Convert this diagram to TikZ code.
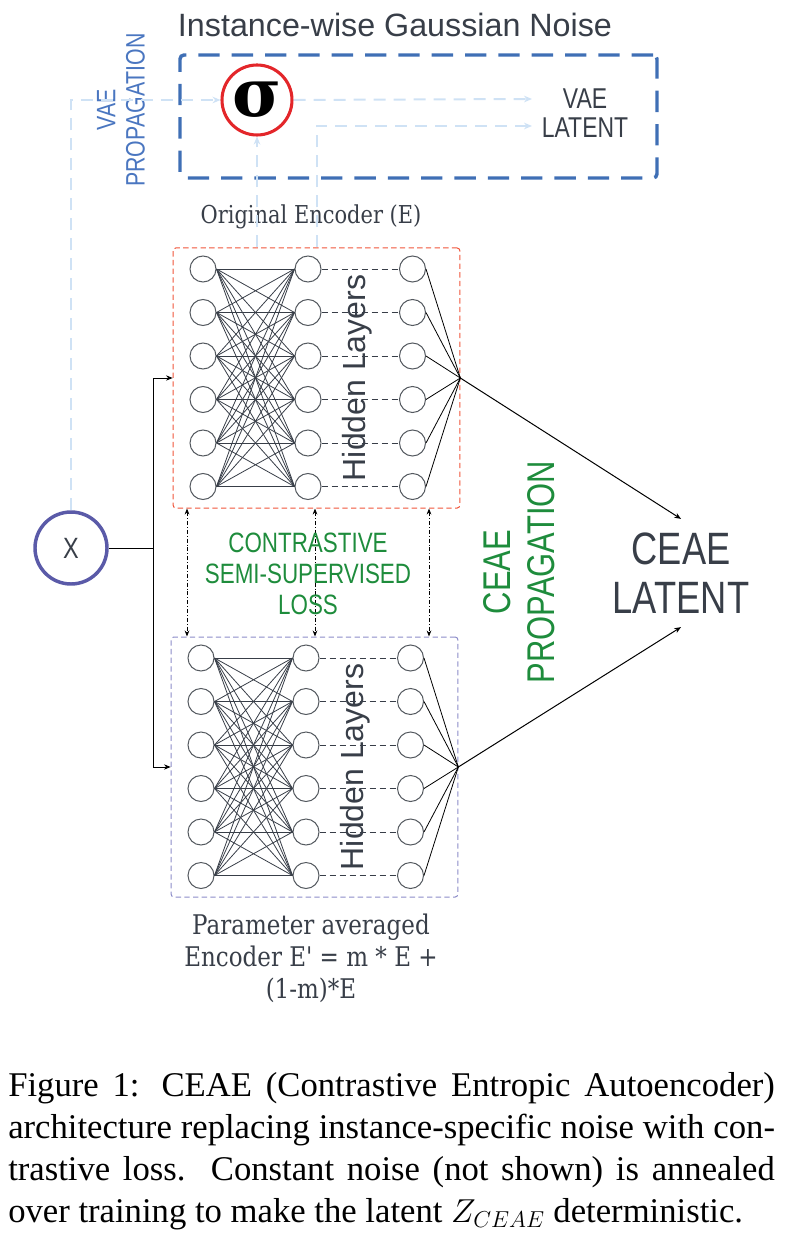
\documentclass[tikz,border=0pt]{standalone}
\usepackage{fontspec}
\usepackage{amsmath}
\setmainfont{Liberation Serif}
\setsansfont{Liberation Sans}
\newfontfamily\narrowfont[FakeStretch=0.8]{Liberation Sans}
\newfontfamily\labelfont[FakeStretch=0.85]{DejaVu Serif}
\newfontfamily\sigmafont{DejaVu Serif}
\usetikzlibrary{arrows.meta,positioning}

\definecolor{darktext}{HTML}{383E48}
\definecolor{noiseblue}{HTML}{3F6FB5}
\definecolor{vaetext}{HTML}{4A76C0}
\definecolor{vaelight}{HTML}{CFE2F5}
\definecolor{sigred}{HTML}{E3262A}
\definecolor{encred}{HTML}{F0553A}
\definecolor{emapurple}{HTML}{8C8CC8}
\definecolor{xpurple}{HTML}{5A5AA8}
\definecolor{ceaegreen}{HTML}{1E8C3C}
\definecolor{neurongray}{HTML}{555A60}

\tikzset{
  neuron/.style={circle, draw=neurongray, line width=0.75pt, minimum size=19.5pt, inner sep=0pt},
  encbox/.style={dash pattern=on 4pt off 2.5pt, line width=0.75pt, rounded corners=2pt,
    minimum width=215pt, minimum height=195pt, inner sep=0pt},
  weight/.style={draw=darktext, line width=0.6pt},
  skipline/.style={draw=darktext, line width=0.6pt, dash pattern=on 4.5pt off 3pt},
  vaeline/.style={draw=vaelight, line width=1.5pt, dash pattern=on 9pt off 6pt},
  vaearrow/.style={vaeline, -{Stealth[length=6pt,width=5pt]}},
  feed/.style={draw=black, line width=0.75pt, -{Stealth[length=5pt,width=4pt]}},
  tie/.style={draw=black, line width=0.6pt, dash pattern=on 3pt off 1.5pt on 0.6pt off 1.5pt,
    {Stealth[length=4.5pt,width=3.5pt]}-{Stealth[length=4.5pt,width=3.5pt]}},
  hidden/.style={font=\sffamily\fontsize{24}{24}\selectfont, text=darktext, inner sep=0pt},
  greenlabel/.style={text=ceaegreen, align=center, inner sep=0pt},
}

% one encoder: 6 inputs fully linked to 6 hidden units, then to the latent point
\newcommand{\netlayers}[1]{%
  \begin{scope}[shift={(#1.center)}]
    \foreach \r in {0,...,5} {
      \node[neuron] (#1-in\r)  at (-113.5,-109+43.5*\r) {};
      \node[neuron] (#1-hid\r) at (-8.5,-109+43.5*\r) {};
      \node[neuron] (#1-out\r) at (96,-109+43.5*\r) {};
    }
    \foreach \i in {0,...,5}
      \foreach \j in {0,...,5}
        \draw[weight] (#1-in\i.east) -- (#1-hid\j.west);
    \foreach \r in {0,...,5} {
      \draw[skipline] (#1-hid\r) -- (#1-out\r);
      \draw[line width=0.6pt] (#1-out\r.east) -- (#1.east);
    }
    \node[hidden, rotate=90] (#1-lbl) at (40.5,0) {Hidden Layers};
  \end{scope}}

\begin{document}
\begin{tikzpicture}[x=0.75pt,y=0.75pt,yscale=-1,xscale=1]
\useasboundingbox (0,0) rectangle (787,1237);

% noise block
\node[font=\sffamily\fontsize{24.2}{24}\selectfont, text=darktext, inner sep=0pt] (title) at (395,25) {Instance-wise Gaussian Noise};
\node[draw=noiseblue, line width=2.6pt, dash pattern=on 16pt off 9pt, rounded corners=3pt,
  minimum width=357.75pt, minimum height=92.25pt] (noise) at (418.5,116.5) {};
\node[circle, draw=sigred, line width=2.3pt, minimum size=52.5pt, inner sep=0pt] (sig) at (257,100)
  {\sigmafont\bfseries\fontsize{50}{50}\selectfont σ};
\node[font=\narrowfont\fontsize{21.5}{22}\selectfont, text=darktext, align=center] (vaelat) at (585,113) {VAE\\LATENT};
\coordinate (mu) at (532,99);
\coordinate (logvar) at (532,126);
\node[font=\narrowfont\fontsize{20}{22}\selectfont, text=vaetext, align=center, rotate=90] (vaeprop) at (121,110) {VAE\\PROPAGATION};

% encoders
\node[encbox, draw=encred] (enc) at (316.5,378) {};
\node[encbox, draw=emapurple] (ema) at (314.5,767) {};
\netlayers{enc}
\netlayers{ema}

\node[font=\labelfont\fontsize{18.5}{24}\selectfont, text=darktext, fill=white, inner sep=1pt] (enclbl) at (311,217) {Original Encoder (E)};
\node[font=\labelfont\fontsize{20.3}{24}\selectfont, text=darktext, align=center] (emalbl) at (311,958)
  {Parameter averaged\\Encoder E' = m * E +\\(1-m)*E};

% input
\node[circle, draw=xpurple, line width=2.6pt, minimum size=54pt, inner sep=0pt,
  font=\narrowfont\fontsize{22}{22}\selectfont, text=darktext] (xin) at (71,548) {X};
\draw[line width=0.75pt] (xin.east) -- ++(45,0) coordinate (split);
\draw[feed] (split) |- (enc.west);
\draw[feed] (split) |- (ema.west);

% vae path
\draw[vaearrow] (xin.north) |- (sig.west);
\draw[vaearrow] (sig.east) -- (mu);
\draw[vaearrow] (sig.south |- enc.north) -- (sig.south);
\draw[vaearrow] (enc.north) |- (logvar);

% contrastive loss
\foreach \x in {187,315,429}
  \draw[tie] (\x,0 |- enc.south) -- (\x,0 |- ema.north);
\node[greenlabel, font=\narrowfont\fontsize{21}{23}\selectfont] (loss) at (308,574) {CONTRASTIVE\\SEMI-SUPERVISED\\LOSS};
\node[greenlabel, font=\narrowfont\fontsize{29}{33}\selectfont, rotate=90] (ceaeprop) at (519,572) {CEAE\\PROPAGATION};

% latent
\node[font=\narrowfont\fontsize{34}{37}\selectfont, text=darktext, align=center, inner sep=10pt] (latent) at (681,573) {CEAE\\LATENT};
\draw[feed] (enc.east) -- (latent.north);
\draw[feed] (ema.east) -- (latent.south);

% caption
\node[anchor=north west, inner sep=0pt, align=left, font=\fontsize{26}{31.5}\selectfont] (caption) at (8,1072) {%
\makebox[575pt][s]{Figure 1: CEAE (Contrastive Entropic Autoencoder)}\\
\makebox[575pt][s]{architecture replacing instance-specific noise with con-}\\
\makebox[575pt][s]{trastive loss.\ \ Constant noise (not shown) is annealed}\\
over training to make the latent $Z_{CEAE}$ deterministic.};

\end{tikzpicture}
\end{document}
